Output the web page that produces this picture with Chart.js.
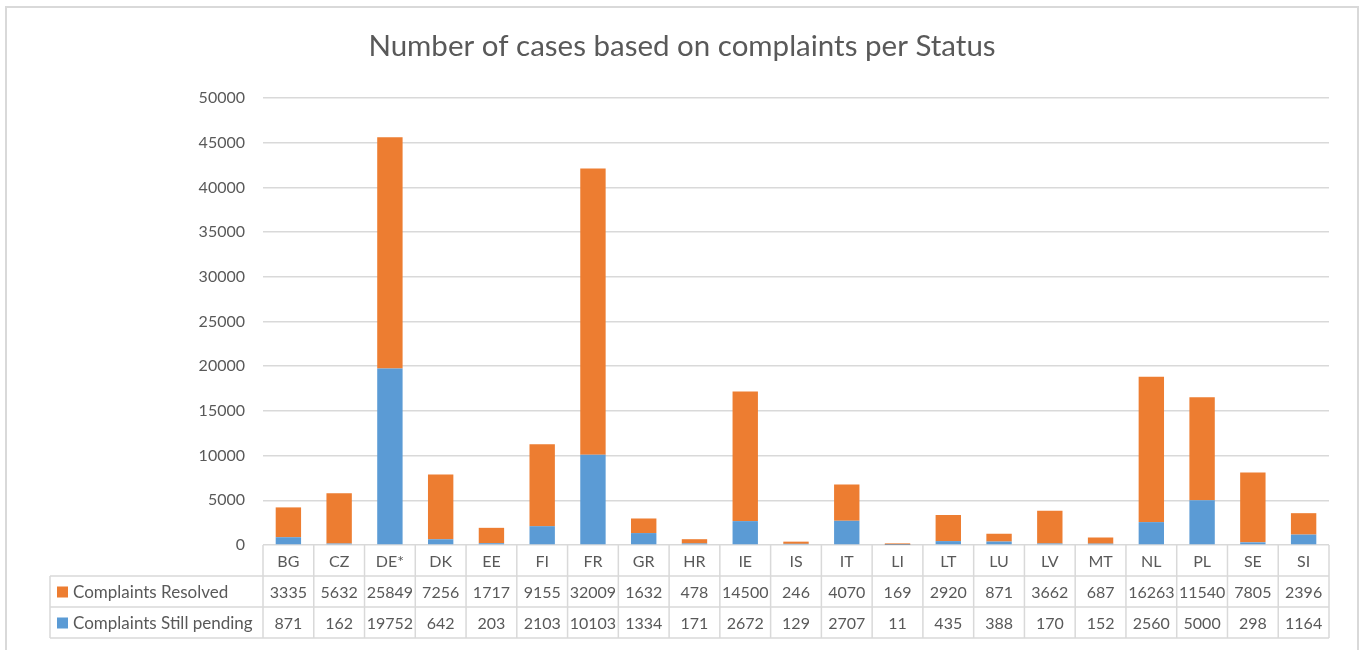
<!DOCTYPE html>
<html>
<head>
<meta charset="utf-8">
<script src="https://cdn.jsdelivr.net/npm/chart.js@4.4.0/dist/chart.umd.min.js"></script>
<style>
  html, body { margin: 0; padding: 0; background: #fff; }
  #wrap { position: relative; width: 1365px; height: 650px; }
</style>
</head>
<body>
<div id="wrap"><canvas id="chart" width="1365" height="650"></canvas></div>
<script>
const countries = ['BG', 'CZ', 'DE*', 'DK', 'EE', 'FI', 'FR', 'GR', 'HR', 'IE', 'IS', 'IT', 'LI', 'LT', 'LU', 'LV', 'MT', 'NL', 'PL', 'SE', 'SI'];
const resolved = [3335, 5632, 25849, 7256, 1717, 9155, 32009, 1632, 478, 14500, 246, 4070, 169, 2920, 871, 3662, 687, 16263, 11540, 7805, 2396];
const pending = [871, 162, 19752, 642, 203, 2103, 10103, 1334, 171, 2672, 129, 2707, 11, 435, 388, 170, 152, 2560, 5000, 298, 1164];
const yTicks = [0, 5000, 10000, 15000, 20000, 25000, 30000, 35000, 40000, 45000, 50000];

const FONT = 'Lato, "Open Sans", sans-serif';
const TEXT = '#595959';
const LINE = '#D9D9D9';
const ORANGE = '#ED7D31';
const BLUE = '#5B9BD5';

// draws the frame, title and the data table under the plot
const tablePlugin = {
    id: 'tablePlugin',
    afterDraw(chart) {
        const ctx = chart.ctx;
        const x = chart.scales.x;
        const area = chart.chartArea;
        const half = (x.getPixelForValue(1) - x.getPixelForValue(0)) / 2;
        const right = area.right;
        const top = area.bottom;
        const rowH = 31;
        const legendLeft = 50;

        ctx.save();
        // outer frame
        ctx.strokeStyle = LINE;
        ctx.lineWidth = 2;
        ctx.strokeRect(6, 7, 1352, 660);

        // title
        ctx.fillStyle = TEXT;
        ctx.font = '29.5px ' + FONT;
        ctx.textAlign = 'center';
        ctx.textBaseline = 'middle';
        ctx.fillText('Number of cases based on complaints per Status', 682, 46);

        // grid lines of the table
        ctx.lineWidth = 1.5;
        ctx.beginPath();
        for (let r = 1; r <= 3; r++) {
            ctx.moveTo(legendLeft, top + r * rowH);
            ctx.lineTo(right, top + r * rowH);
        }
        ctx.moveTo(legendLeft, top + rowH);
        ctx.lineTo(legendLeft, top + 3 * rowH);
        for (let i = 0; i <= countries.length; i++) {
            const cx = i < countries.length ? x.getPixelForValue(i) - half : x.getPixelForValue(countries.length - 1) + half;
            ctx.moveTo(cx, top);
            ctx.lineTo(cx, top + 3 * rowH);
        }
        ctx.stroke();

        // category labels and values
        ctx.fillStyle = TEXT;
        ctx.textAlign = 'center';
        ctx.font = '16px ' + FONT;
        countries.forEach((c, i) => {
            const cx = x.getPixelForValue(i);
            ctx.fillText(c, cx, top + rowH / 2 + 1);
            ctx.fillText(String(resolved[i]), cx, top + rowH * 1.5 + 1);
            ctx.fillText(String(pending[i]), cx, top + rowH * 2.5 + 1);
        });

        // legend keys
        const rows = [['Complaints Resolved', ORANGE], ['Complaints Still pending', BLUE]];
        rows.forEach((row, r) => {
            const cy = top + rowH * (1.5 + r);
            ctx.fillStyle = row[1];
            ctx.fillRect(57, cy - 5, 11, 11);
            ctx.fillStyle = TEXT;
            ctx.textAlign = 'left';
            ctx.font = '17px ' + FONT;
            ctx.fillText(row[0], 73, cy + 1);
        });
        ctx.restore();
    }
};

new Chart(document.getElementById('chart'), {
    type: 'bar',
    data: {
        labels: countries,
        datasets: [
            { label: 'Complaints Still pending', data: pending, backgroundColor: BLUE, barPercentage: 0.5, categoryPercentage: 1 },
            { label: 'Complaints Resolved', data: resolved, backgroundColor: ORANGE, barPercentage: 0.5, categoryPercentage: 1 }
        ]
    },
    options: {
        responsive: false,
        animation: false,
        layout: { padding: { top: 98, right: 36, bottom: 105, left: 0 } },
        plugins: {
            legend: { display: false },
            title: { display: false },
            tooltip: { enabled: false }
        },
        scales: {
            x: {
                stacked: true,
                display: false
            },
            y: {
                stacked: true,
                min: 0,
                max: 50000,
                afterFit(scale) { scale.width = 263; },
                afterBuildTicks(scale) { scale.ticks = yTicks.map(v => ({ value: v })); },
                border: { display: false },
                grid: { color: LINE, lineWidth: 1.5, drawTicks: false },
                ticks: {
                    padding: 18,
                    color: TEXT,
                    font: { family: FONT, size: 16 },
                    callback: v => String(v)
                }
            }
        }
    },
    plugins: [tablePlugin]
});
</script>
</body>
</html>
